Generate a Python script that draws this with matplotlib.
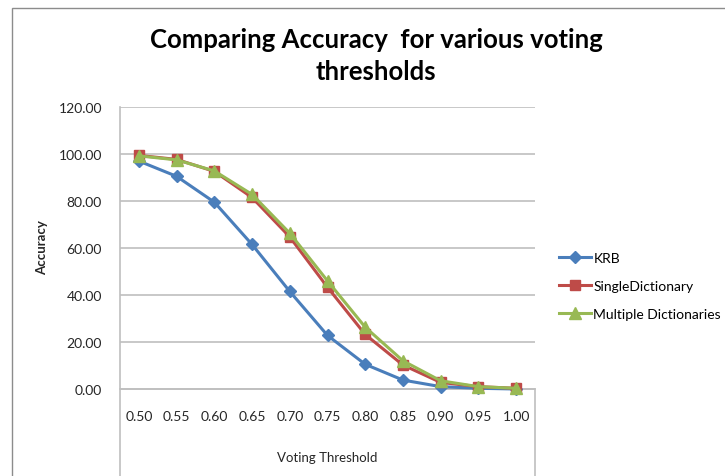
import matplotlib
matplotlib.use("Agg")
import matplotlib.pyplot as plt
from matplotlib.patches import Rectangle

thresholds = ["0.50", "0.55", "0.60", "0.65", "0.70", "0.75", "0.80", "0.85", "0.90", "0.95", "1.00"]
krb = [97.0, 90.5, 79.5, 61.5, 41.5, 22.8, 10.5, 3.8, 1.0, 0.3, 0.0]
single = [99.4, 97.7, 92.6, 81.5, 64.7, 43.3, 23.2, 10.2, 2.8, 1.0, 0.3]
multiple = [99.2, 97.5, 92.8, 82.8, 66.3, 46.0, 26.3, 12.0, 3.5, 1.0, 0.3]
yticks = [0, 20, 40, 60, 80, 100, 120]

W, H = 725, 477
plt.rcParams['font.family'] = ['Lato', 'DejaVu Sans']
fig = plt.figure(figsize=(W / 100, H / 100), dpi=100)

# outer chart frame
fig.patches.append(Rectangle((12 / W, -0.1), 1.0, 1 - 9 / H + 0.1, transform=fig.transFigure,
                             fill=False, edgecolor='#8c8c8c', linewidth=1.0))

left, right, top = 120, 535, 108
ax = fig.add_axes([left / W, 0, (right - left) / W, (H - top) / H])
ppu = (390 - top) / 120.0
ymin = -(H - 390) / ppu
ax.set_ylim(ymin, 120)
xs = list(range(len(thresholds)))
ax.set_xlim(-0.5, len(thresholds) - 0.5)

grid_c = '#bfbfbf'
for v in yticks:
    ax.axhline(v, color=grid_c, lw=1.2, zorder=1)

ax.plot(xs, krb, color='#4A7EBB', lw=2.2, marker='D', ms=6, mec='#4A7EBB', label='KRB', zorder=3)
ax.plot(xs, single, color='#BE4B48', lw=2.2, marker='s', ms=7.5, mec='#BE4B48', label='SingleDictionary', zorder=4)
ax.plot(xs, multiple, color='#98B954', lw=2.2, marker='^', ms=8.5, mec='#98B954', label='Multiple Dictionaries', zorder=5)

ax.spines['top'].set_visible(False)
ax.spines['bottom'].set_position(('data', 0))
for s in ['left', 'right', 'bottom']:
    ax.spines[s].set_color(grid_c)
    ax.spines[s].set_linewidth(1.2)
ax.spines['right'].set_bounds(ymin, 0)

tick_c = '#262626'
ax.set_yticks(yticks)
ax.set_yticklabels([f"{v:.2f}" for v in yticks], fontsize=10, color=tick_c)
ax.set_xticks(xs)
ax.set_xticklabels(thresholds, fontsize=10, color=tick_c)
ax.tick_params(axis='both', length=0)
ax.tick_params(axis='y', pad=13)
ax.tick_params(axis='x', pad=15)
ax.set_facecolor('none')

fig.text(327 / W, 1 - 458 / H, "Voting Threshold", ha='center', va='center', fontsize=9.5, color=tick_c)
fig.text(42 / W, 1 - 248 / H, "Accuracy", ha='center', va='center', rotation=90, fontsize=9.5,
         fontweight='bold', color=tick_c)

fig.text(376 / W, 1 - 56 / H, "Comparing Accuracy  for various voting\nthresholds", ha='center', va='center',
         fontsize=18.5, fontweight='bold', linespacing=1.35)

leg = fig.legend(loc='center left', bbox_to_anchor=(553 / W, 1 - 287 / H), frameon=False, fontsize=10,
                 handlelength=2.3, labelspacing=1.15, handletextpad=0.2, borderaxespad=0)

fig.savefig("out.png", dpi=100)
